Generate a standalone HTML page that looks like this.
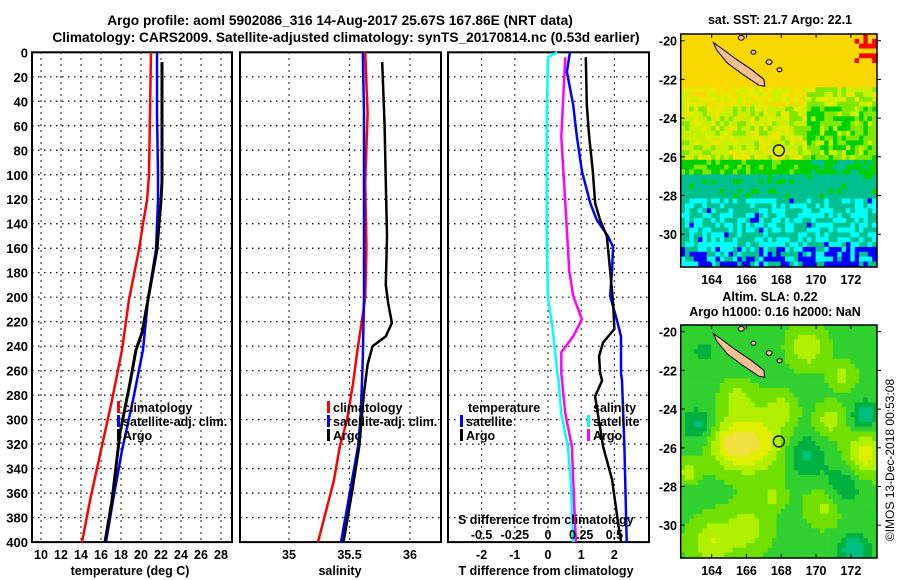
<!DOCTYPE html>
<html><head><meta charset="utf-8"><style>
html,body{margin:0;padding:0;background:#fff}
svg{display:block}
text{font-family:"Liberation Sans",sans-serif;font-weight:bold;fill:#000}
</style></head><body>
<svg id="fig" width="900" height="580" viewBox="0 0 900 580" xmlns="http://www.w3.org/2000/svg">
<text x="340" y="25" font-size="13.7" text-anchor="middle">Argo profile: aoml 5902086_316 14-Aug-2017 25.67S 167.86E (NRT data)</text>
<text x="346" y="42" font-size="13.7" text-anchor="middle">Climatology: CARS2009. Satellite-adjusted climatology: synTS_20170814.nc (0.53d earlier)</text>
<g id="p1"></g>
<g id="p2"></g>
<g id="p3"></g>
<g id="m1"></g>
<g id="m2"></g>
<text x="894" y="460" font-size="12" text-anchor="middle" transform="rotate(-90 894 460)" style="font-weight:normal">©IMOS 13-Dec-2018 00:53:08</text>
</svg>
<script>
// ---- data ----
const depthTicks = [0,20,40,60,80,100,120,140,160,180,200,220,240,260,280,300,320,340,360,380,400];
const tempTicks = [10,12,14,16,18,20,22,24,26,28];
const salTicks = [35,35.5,36];
const tdiffTicks = [-2,-1,0,1,2];
const sdiffTicks = [-0.5,-0.25,0,0.25,0.5];

const climTDepth = [0,50,100,121,140,161,202,243,284,325,366,400];
const climT      = [21.0,20.9,20.8,20.6,20.2,19.8,18.8,18.1,17.1,16.0,14.9,14.1];
const satTDepth  = [0,50,100,121,161,202,243,284,325,366,400];
const satT       = [21.6,21.6,21.7,21.7,21.5,20.7,20.2,19.2,18.1,17.2,16.5];
const argoTDepth = [8,60,105,121,140,161,202,229,243,270,311,366,400];
const argoT      = [22.1,22.1,22.1,22.0,21.8,21.6,20.7,20.1,19.5,18.9,17.9,17.1,16.4];

const climSDepth = [0,50,106,160,200,221,240,270,300,322,350,400];
const climS      = [35.63,35.65,35.63,35.64,35.63,35.60,35.57,35.53,35.48,35.42,35.37,35.24];
const satSDepth  = [0,50,106,160,200,250,278,300,322,350,400];
const satS       = [35.61,35.62,35.62,35.62,35.62,35.61,35.60,35.59,35.57,35.52,35.43];
const argoSDepth = [8,60,106,150,190,205,221,232,240,255,278,300,322,360,400];
const argoS      = [35.77,35.79,35.80,35.81,35.80,35.82,35.85,35.80,35.69,35.65,35.62,35.60,35.58,35.52,35.45];

const satTdDepth  = [0,16,43,69,97,123,137,150,159,178,199,218,232,262,268,322,400];
const satTd       = [0.66,0.57,0.76,0.87,1.02,1.27,1.47,1.8,1.96,1.93,1.87,2.07,2.2,2.2,2.23,2.3,2.37];
const argoTdDepth = [4,43,69,97,123,137,150,178,205,226,237,248,262,268,281,322,349,382,400];
const argoTd      = [1.14,1.17,1.24,1.35,1.42,1.57,1.77,1.87,1.96,2.0,1.66,1.54,1.57,1.63,1.42,1.66,1.93,2.1,2.2];
const satSdDepth  = [0,4,50,100,150,202,221,262,268,295,322,349,400];
const satSd       = [0.07,0.0,-0.01,-0.01,-0.01,0.0,0.03,0.07,0.08,0.1,0.15,0.17,0.19];
const argoSdDepth = [4,69,123,178,199,218,232,245,262,295,322,349,400];
const argoSd      = [0.13,0.1,0.13,0.16,0.19,0.255,0.19,0.1,0.1,0.13,0.18,0.19,0.21];

const lonTicks = [164,166,168,170,172];
const latTicks = [-20,-22,-24,-26,-28,-30];
const argoLon = 167.86, argoLat = -25.67;

// ---- helpers ----
const NS="http://www.w3.org/2000/svg";
function mk(parent,tag,attrs){const e=document.createElementNS(NS,tag);for(const k in attrs)e.setAttribute(k,attrs[k]);parent.appendChild(e);return e;}
function txt(parent,x,y,s,size,anchor){const t=mk(parent,'text',{x:x,y:y,'font-size':size,'text-anchor':anchor||'middle'});t.textContent=s;return t;}
const top0=52.3, pxm=1.2245;
const yD=d=>top0+d*pxm;

function panel(g,x0,x1,xs,xticks,xlabels,vgrid,showY){
  mk(g,'rect',{x:x0,y:yD(0),width:x1-x0,height:yD(400)-yD(0),fill:'#fff',stroke:'#000','stroke-width':2});
  depthTicks.forEach(d=>{
    if(d>0&&d<400){const l=mk(g,'line',{x1:x0,x2:x1,y1:yD(d),y2:yD(d),stroke:'#000','stroke-width':1.2,'stroke-dasharray':'1.5,4.5'});
    }
    if(showY){const t=txt(g,x0-4,yD(d)+5,String(d),13,'end');
    }
  });
  vgrid.forEach(v=>{const l=mk(g,'line',{x1:xs(v),x2:xs(v),y1:yD(0),y2:yD(400),stroke:'#000','stroke-width':1.2,'stroke-dasharray':'1.5,4.5'});
    });
  if(xticks) xticks.forEach((v,i)=>{const t=txt(g,xs(v),yD(400)+17,xlabels[i],12.5);
    });
}
function line(g,depths,vals,xs,color,w,name){
  const pts=depths.map((d,i)=>xs(vals[i]).toFixed(1)+','+yD(d).toFixed(1)).join(' ');
  const p=mk(g,'polyline',{points:pts,fill:'none',stroke:color,'stroke-width':w,'stroke-linejoin':'round'});
  
}
function legendItem(g,x,y,color,label){
  mk(g,'rect',{x:x,y:y-11,width:3,height:12,fill:color});
  const t=txt(g,x+6,y,label,12.5,'start');
  
}

// Panel 1 temperature
const p1=document.getElementById('p1');
const xT=t=>41+(t-10)*10;
panel(p1,32,232,xT,tempTicks,tempTicks.map(String),tempTicks,true);
line(p1,climTDepth,climT,xT,'#f00',2.5,'climatology-temperature-line');
line(p1,satTDepth,satT,xT,'#00f',2.5,'satellite-temperature-line');
line(p1,argoTDepth,argoT,xT,'#000',3,'argo-temperature-line');
legendItem(p1,117,412,'#f00','climatology');
legendItem(p1,117,426,'#00f','satellite-adj. clim.');
legendItem(p1,117,440,'#000','Argo');
{const t=txt(p1,130,575,'temperature (deg C)',12.5);}

// Panel 2 salinity
const p2=document.getElementById('p2');
const xS=s=>289+(s-35)*121;
panel(p2,240,441,xS,salTicks,['35','35.5','36'],salTicks,false);
line(p2,climSDepth,climS,xS,'#f00',2.5,'climatology-salinity-line');
line(p2,satSDepth,satS,xS,'#00f',2.5,'satellite-salinity-line');
line(p2,argoSDepth,argoS,xS,'#000',2.5,'argo-salinity-line');
legendItem(p2,327,412,'#f00','climatology');
legendItem(p2,327,426,'#00f','satellite-adj. clim.');
legendItem(p2,327,440,'#000','Argo');
{const t=txt(p2,340,575,'salinity',12.5);}

// Panel 3 differences
const p3=document.getElementById('p3');
const xTd=v=>548+v*33.2;
const xSd=v=>548+v*132.8;
panel(p3,448,649,xTd,tdiffTicks,tdiffTicks.map(String),tdiffTicks,false);
line(p3,satSdDepth,satSd,xSd,'#0ff',2.5,'satellite-salinity-diff-line');
line(p3,argoSdDepth,argoSd,xSd,'#f0f',2.5,'argo-salinity-diff-line');
line(p3,satTdDepth,satTd,xTd,'#00f',2.5,'satellite-temperature-diff-line');
line(p3,argoTdDepth,argoTd,xTd,'#000',2.5,'argo-temperature-diff-line');
{const t=txt(p3,468,412,'temperature',12.5,'start');}
legendItem(p3,460,426,'#00f','satellite');
legendItem(p3,460,440,'#000','Argo');
{const t=txt(p3,593,412,'salinity',12.5,'start');}
legendItem(p3,587,426,'#0ff','satellite');
legendItem(p3,587,440,'#f0f','Argo');
{const t=txt(p3,458,524,'S difference from climatology',12.5,'start');}
sdiffTicks.forEach(v=>{const t=txt(p3,xSd(v),539,String(v),12.5);});
{const t=txt(p3,546,575,'T difference from climatology',12.5);}

// ---- maps ----
function hash(i,j,s){let h=(i*374761393+j*668265263+s*2147483647)|0;h=(h^(h>>>13))*1274126177|0;h=h^(h>>>16);return ((h>>>0)%1000)/1000;}
const sstColors=['#0000ff','#00ffff','#00c090','#00a840','#00d000','#80e800','#c8f000','#e8e800','#f8d800','#ff0000'];
const slaColors=['#00c080','#00b040','#30d030','#70e000','#b0f000','#e0f000','#f0e040'];
const slaBumps=[[166.5,-25.7,1.6,1.0],[165,-25.9,1.1,0.8],[172.8,-26.4,1.1,0.9],[170.8,-24.6,0.8,0.6],[169.5,-20.8,1.0,0.7],[164,-30.9,1.2,0.7],[166,-30.2,1.2,0.6],[170.5,-29,1.0,0.55],[168,-24,0.8,0.5],[165.5,-23.5,0.9,0.5],[171.5,-22.3,0.7,0.5],[162.7,-27.2,0.6,0.6],[167.5,-28.5,0.7,0.45],[163.2,-24.8,0.8,-0.6],[172.8,-24.3,0.7,-0.8],[169.4,-26.4,1.0,-0.6],[172.2,-31.3,0.8,-1.0],[171.5,-28,1.2,-0.5],[163.5,-21,0.8,-0.3]];
function drawMap(g,top,kind){
  const L=680.7,R=877,B=top+233;
  const lonX=lo=>L+(lo-162.22)*17.4;
  const latY=la=>top+6.7+(-20-la)*19.35;
  const cw=4.35, ch=4.84;
  const clip='clip'+kind;
  const cp=mk(mk(g,'defs',{}),'clipPath',{id:clip});mk(cp,'rect',{x:L,y:top,width:R-L,height:B-top});
  const cells=mk(g,'g',{'clip-path':'url(#'+clip+')'});
  for(let i=0;i*cw<R-L;i++)for(let j=0;j*ch<B-top;j++){
    const lo=162.22+(i+0.5)*cw/17.4, la=-20-((j+0.5)*ch-6.7)/19.35;
    let c;
    if(kind==='sst'){
      let v;
      if(la>-22.3) v=8; else if(la>-23.5) v=7; else if(la>-26.2) v=6; else if(la>-27) v=4; else if(la>-28.2) v=2.6; else if(la>-30.8) v=1.5; else v=1.2;
      if(la<-22&&la>-27&&lo>169.5) v-=1.2;
      v+= (hash(i,j,1)-0.5)*2.2;
      v=Math.min(8,v);
      if(la>-22.3) v=Math.max(v,7.6);
      if(la<-30.6&&hash(i,j,2)>(lo>170.5?0.3:0.8)) v=0;
      if(la>-21.2&&lo>172.2&&hash(i,j,3)>0.5) v=9;
      if(la>-21&&hash(i,j,4)>0.985) v=9;
      v=Math.max(0,Math.min(9,Math.round(v)));
      if(v===3) v=la>-27?4:2;
      c=sstColors[v];
    } else {
      let v=2.2;
      slaBumps.forEach(b=>{const dx=(lo-b[0])/b[2],dy=(la-b[1])/b[2];v+=b[3]*3.2*Math.exp(-(dx*dx+dy*dy));});
      v=Math.max(0,Math.min(6,Math.round(v)));
      c=slaColors[v];
    }
    mk(cells,'rect',{x:(L+i*cw).toFixed(2),y:(top+j*ch).toFixed(2),width:cw+0.3,height:ch+0.3,fill:c});
  }
  // land: New Caledonia
  const isl=[[164.1,-20.1],[164.5,-20.35],[165.4,-20.95],[166.3,-21.5],[167.0,-22.0],[167.05,-22.35],[166.7,-22.3],[165.8,-21.75],[164.9,-21.15],[164.3,-20.5]];
  const p=mk(cells,'polygon',{points:isl.map(q=>lonX(q[0]).toFixed(1)+','+latY(q[1]).toFixed(1)).join(' '),fill:'#f8c090',stroke:'#000','stroke-width':1});
  
  [[167.3,-21.1,3],[167.9,-21.5,2.5],[166.4,-20.6,2.5],[165.7,-19.85,3]].forEach(q=>{
    mk(cells,'ellipse',{cx:lonX(q[0]),cy:latY(q[1]),rx:q[2],ry:q[2]*0.8,fill:'#f8c090',stroke:'#000','stroke-width':1});
  });
  mk(g,'rect',{x:L,y:top,width:R-L,height:B-top,fill:'none',stroke:'#000','stroke-width':1.5});
  const m=mk(g,'circle',{cx:lonX(argoLon),cy:latY(argoLat),r:5.5,fill:'none',stroke:'#000','stroke-width':1.3});
  
  lonTicks.forEach(lo=>{
    mk(g,'line',{x1:lonX(lo),x2:lonX(lo),y1:B,y2:B-4,stroke:'#000'});
    mk(g,'line',{x1:lonX(lo),x2:lonX(lo),y1:top,y2:top+4,stroke:'#000'});
    const t=txt(g,lonX(lo),B+17,String(lo),12.5);
  });
  latTicks.forEach(la=>{
    mk(g,'line',{x1:R,x2:R+4,y1:latY(la),y2:latY(la),stroke:'#000'});
    mk(g,'line',{x1:L,x2:L+4,y1:latY(la),y2:latY(la),stroke:'#000'});
    const t=txt(g,677,latY(la)+5,String(la),12.5,'end');
  });
}
const m1=document.getElementById('m1'), m2=document.getElementById('m2');
drawMap(m1,34,'sst');
drawMap(m2,325,'sla');
{const t=txt(m1,780,24,'sat. SST: 21.7 Argo: 22.1',12.5);}
{const t=txt(m2,770,301,'Altim. SLA: 0.22',12.5);}
{const t=txt(m2,775,316,'Argo h1000: 0.16 h2000: NaN',12.5);}
</script>
</body></html>
